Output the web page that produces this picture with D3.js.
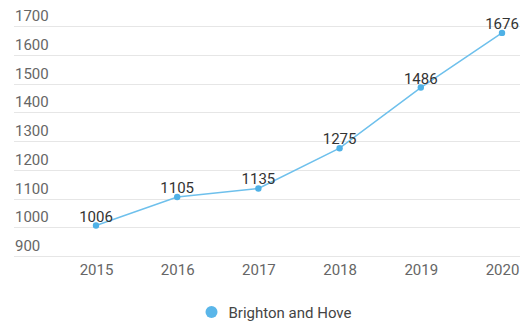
<!DOCTYPE html>
<html>
<head>
<meta charset="utf-8">
<script src="https://cdn.jsdelivr.net/npm/d3@7"></script>
<style>
  html, body { margin: 0; padding: 0; background: #fff; }
  svg { display: block; font-family: Roboto, "Noto Sans", sans-serif; }
</style>
</head>
<body>
<svg id="chart" width="530" height="321"></svg>
<script>
// Annual figures for Brighton and Hove
const years = ["2015", "2016", "2017", "2018", "2019", "2020"];
const values = [1006, 1105, 1135, 1275, 1486, 1676];
const yTicks = [900, 1000, 1100, 1200, 1300, 1400, 1500, 1600, 1700];
const seriesName = "Brighton and Hove";

const svg = d3.select("#chart");
const gridLeft = 14, gridRight = 520;
const plotTop = 26, plotBottom = 256;

const x = d3.scalePoint().domain(years).range([96, 502]);
const y = d3.scaleLinear().domain([900, 1700]).range([plotBottom, plotTop]);

// horizontal grid with labels sitting just above each line
const grid = svg.append("g");
grid.selectAll("line").data(yTicks).join("line")
  .attr("x1", gridLeft).attr("x2", gridRight)
  .attr("y1", d => Math.round(y(d)) + 0.5).attr("y2", d => Math.round(y(d)) + 0.5)
  .attr("stroke", "#e6e6e6").attr("stroke-width", 1);
grid.selectAll("text").data(yTicks).join("text")
  .attr("x", gridLeft + 1).attr("y", d => y(d) - 5)
  .attr("font-size", 15).attr("fill", "#666")
  .text(d => d);

// x axis labels
const xAxis = d3.axisBottom(x).tickSize(0).tickPadding(0);
const gx = svg.append("g").attr("transform", `translate(0,${plotBottom + 19})`).call(xAxis);
gx.select(".domain").remove();
gx.selectAll("text").attr("font-size", 15).attr("fill", "#666").attr("font-family", "Roboto, sans-serif").attr("dy", 0);

// series line
const line = d3.line().x((d, i) => x(years[i])).y(d => y(d));
svg.append("path").datum(values)
  .attr("d", line).attr("fill", "none")
  .attr("stroke", "#6ec0ec").attr("stroke-width", 1.5);

svg.selectAll("circle.pt").data(values).join("circle")
  .attr("class", "pt")
  .attr("cx", (d, i) => x(years[i])).attr("cy", d => y(d))
  .attr("r", 3.2).attr("fill", "#4fb1e6");

svg.selectAll("text.val").data(values).join("text")
  .attr("class", "val")
  .attr("x", (d, i) => x(years[i])).attr("y", d => y(d) - 4)
  .attr("text-anchor", "middle").attr("font-size", 15).attr("fill", "#333")
  .text(d => d);

// legend
const lg = svg.append("g").attr("transform", "translate(211.5,312)");
lg.append("circle").attr("r", 6).attr("fill", "#5ab6e9");
lg.append("text").attr("x", 17).attr("y", 5.5)
  .attr("font-size", 15).attr("fill", "#444").text(seriesName);
</script>
</body>
</html>
